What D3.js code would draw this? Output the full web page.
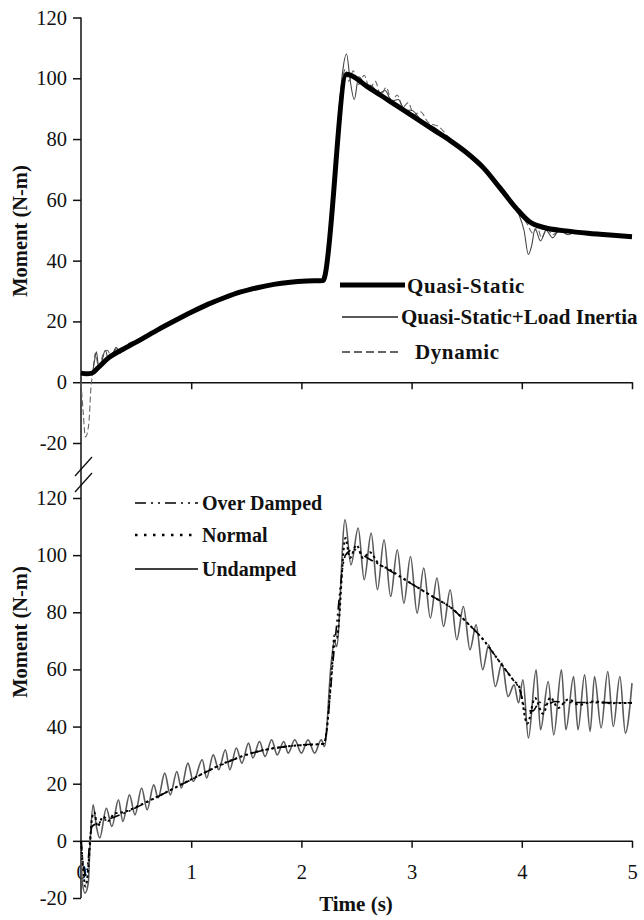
<!DOCTYPE html>
<html>
<head>
<meta charset="utf-8">
<script src="https://cdn.jsdelivr.net/npm/d3@7"></script>
<style>
  html, body { margin: 0; padding: 0; background: #fff; }
  svg { display: block; }
  text { font-family: "Liberation Serif", "Times New Roman", serif; fill: #111; }
</style>
</head>
<body>
<div id="chart"></div>
<script>
// ---- Data: [time (s), moment (N-m)] ----
const yTicks = [-20, 0, 20, 40, 60, 80, 100, 120];
const xTicks = [0, 1, 2, 3, 4, 5];

// Upper panel
const quasiStatic = [[0,3],[0.05,2.8],[0.1,3],[0.15,4.6],[0.25,8],[0.4,11.2],[0.55,14.2],[0.7,17.3],[0.85,20.2],[1.0,23],[1.15,25.6],[1.3,27.8],[1.45,29.7],[1.6,31.1],[1.75,32.2],[1.9,32.9],[2.05,33.3],[2.2,33.5],[2.21,34.5],[2.41,101.3],[2.6,97.2],[2.8,92.5],[3.0,87.8],[3.2,83],[3.35,79.5],[3.5,75.5],[3.65,70.6],[3.8,64],[3.95,57.2],[4.07,52.8],[4.2,50.9],[4.4,49.8],[4.6,49],[4.8,48.4],[5.0,47.9]];

const loadInertia = [[0,3],[0.1,3],[0.12,6.5],[0.14,10],[0.16,5],[0.19,7],[0.22,10.5],[0.25,7.5],[0.29,9.5],[0.32,11.5],[0.35,9.5],[0.4,11.5],[0.5,13.5],[0.7,17.3],[1.0,23],[1.3,27.8],[1.6,31.1],[1.9,32.9],[2.2,33.5],[2.21,34.5],[2.41,108],[2.44,100],[2.48,93],[2.52,100.5],[2.58,98],[2.64,97.5],[2.7,95],[2.76,96],[2.82,92.5],[2.88,93],[2.94,89.5],[3.0,89.5],[3.1,85.5],[3.2,84],[3.35,79.5],[3.5,75.5],[3.65,70.6],[3.8,64],[3.9,59.5],[3.97,55.5],[4.02,50],[4.06,42],[4.09,45],[4.12,50.5],[4.17,46.5],[4.22,50],[4.28,47.5],[4.34,50],[4.42,48.5],[4.5,49.6],[4.7,48.7],[5.0,47.9]];

const dynamic = [[0,0],[0.02,-10],[0.04,-18],[0.07,-14],[0.09,-2],[0.11,4],[0.13,9.5],[0.16,5],[0.2,9],[0.24,10.5],[0.28,8],[0.32,11],[0.36,10.5],[0.42,12.5],[0.5,13.8],[0.7,17.5],[1.0,23.3],[1.3,28],[1.6,31.3],[1.9,33.2],[2.2,33.8],[2.21,34.5],[2.4,103],[2.43,99],[2.47,102.5],[2.52,98],[2.57,101],[2.62,96.5],[2.67,99],[2.72,94.5],[2.77,97],[2.82,92.5],[2.87,94.5],[2.92,90.5],[2.97,92],[3.02,88],[3.08,89],[3.15,85.5],[3.25,84],[3.35,80],[3.5,76],[3.65,71],[3.8,64.5],[3.95,57],[4.05,52],[4.1,49],[4.14,51],[4.18,47.5],[4.23,50.5],[4.28,48.5],[4.35,50],[4.45,49],[4.6,49.3],[4.8,48.5],[5.0,48]];

// Lower panel
const overDamped = [[0,0],[0.02,-8],[0.04,-12],[0.06,-9],[0.08,0],[0.1,5],[0.14,6],[0.2,7],[0.3,8.3],[0.4,9.8],[0.55,12.6],[0.7,15.5],[0.85,18.5],[1.0,21.4],[1.15,24.4],[1.3,27],[1.45,29.4],[1.6,31.2],[1.75,32.4],[1.9,33.2],[2.05,33.7],[2.2,33.9],[2.21,34.5],[2.3,68],[2.4,100],[2.47,102],[2.6,99],[2.75,95.8],[2.89,92.5],[3.05,88.8],[3.2,85.3],[3.35,81.8],[3.5,76.5],[3.65,70.4],[3.8,62.6],[3.92,56.4],[3.98,53],[4.04,45.5],[4.1,45.5],[4.16,48.5],[4.22,47.5],[4.3,48.8],[4.4,48.4],[4.6,48.4],[5.0,48.3]];

const normal = [[0,0],[0.02,-10],[0.04,-16],[0.06,-12],[0.08,-2],[0.1,8],[0.12,10],[0.15,5],[0.2,8.5],[0.25,7],[0.3,9.5],[0.4,10.2],[0.55,12.8],[0.7,15.6],[1.0,21.5],[1.3,27.2],[1.6,31.3],[1.9,33.2],[2.2,34],[2.21,34.5],[2.28,62],[2.3,72],[2.32,71],[2.4,106],[2.44,99],[2.5,103.5],[2.56,99],[2.62,101],[2.7,97],[2.8,95],[2.89,92.7],[3.05,88.8],[3.2,85.3],[3.35,81.8],[3.5,76.5],[3.65,70.4],[3.8,62.6],[3.92,56.4],[3.98,53.5],[4.05,41],[4.12,50],[4.19,44.5],[4.26,50.2],[4.33,46.5],[4.42,49.5],[4.52,47.6],[4.65,48.8],[4.8,48.2],[5.0,48.3]];

const undamped = [[0,0],[0.01,-13.7],[0.036,-18.3],[0.066,-14.8],[0.08,-3],[0.11,12.6],[0.14,5],[0.17,1],[0.23,11.4],[0.28,5],[0.34,14.4],[0.38,6.8],[0.44,16.1],[0.49,9.1],[0.55,18.5],[0.6,10.9],[0.66,19.6],[0.7,15],[0.76,23.7],[0.81,16.1],[0.87,24.3],[0.91,18.5],[0.97,27.2],[1.02,20.8],[1.1,28.4],[1.14,22],[1.2,30.1],[1.25,24.9],[1.31,31.9],[1.35,24.9],[1.41,32.5],[1.46,27.2],[1.52,34.2],[1.56,29],[1.62,34.8],[1.67,29.5],[1.73,35.4],[1.78,30.1],[1.84,34.8],[1.88,30.7],[1.94,35.4],[2.0,30.7],[2.06,35.4],[2.12,30.7],[2.18,35.4],[2.21,33],[2.27,62],[2.3,70],[2.32,68],[2.396,112.4],[2.45,96.6],[2.515,109.5],[2.57,91.4],[2.633,107.7],[2.69,87.9],[2.75,105.4],[2.81,85.5],[2.87,101.9],[2.93,83.2],[2.99,99.5],[3.05,79.7],[3.11,95.5],[3.17,78],[3.23,92],[3.29,75],[3.35,87.9],[3.41,70.4],[3.47,82],[3.53,66.9],[3.585,75.6],[3.645,59.9],[3.7,68.6],[3.76,54],[3.82,62.2],[3.875,50.5],[3.93,54.6],[3.97,48.3],[4.01,56.4],[4.06,36],[4.13,59.9],[4.17,38.9],[4.24,55.8],[4.29,37.1],[4.36,59.9],[4.4,38.9],[4.47,57.5],[4.51,38.9],[4.57,58.1],[4.62,38.3],[4.66,57.5],[4.72,39.5],[4.78,59.3],[4.83,40],[4.89,57.5],[4.94,37.7],[5.0,55.2]];

const topLegend = ["Quasi-Static", "Quasi-Static+Load Inertia", "Dynamic"];
const bottomLegend = ["Over Damped", "Normal", "Undamped"];

// ---- Layout ----
const W = 644, H = 920;
const svg = d3.select("#chart").append("svg").attr("width", W).attr("height", H);

const x = d3.scaleLinear().domain([0, 5]).range([81, 632]);
const yTop = d3.scaleLinear().domain([-20, 120]).range([443, 17.5]);
const yBot = d3.scaleLinear().domain([-20, 120]).range([898, 498]);

const plain = d => String(d);
const line = (ys) => d3.line().x(d => x(d[0])).y(d => ys(d[1])).curve(d3.curveMonotoneX);

function styleAxis(g) {
  g.selectAll(".domain").remove();
  g.selectAll(".tick line").attr("stroke", "#111").attr("stroke-width", 1.5);
  g.selectAll(".tick text").attr("font-family", "Liberation Serif, serif")
    .attr("font-size", 20.5).attr("fill", "#111");
}

// Y axes (labels on the left of one shared vertical line)
svg.append("g").attr("transform", "translate(81,0)")
  .call(d3.axisLeft(yTop).tickValues(yTicks).tickSize(8).tickPadding(6).tickFormat(plain))
  .call(styleAxis);
svg.append("g").attr("transform", "translate(81,0)")
  .call(d3.axisLeft(yBot).tickValues(yTicks).tickSize(8).tickPadding(6).tickFormat(plain))
  .call(styleAxis);

// Shared vertical axis line
svg.append("line").attr("x1", 81).attr("x2", 81)
  .attr("y1", yTop(120)).attr("y2", yBot(-20))
  .attr("stroke", "#111").attr("stroke-width", 1.5);

// Axis break marks
[[457, 476], [473, 492]].forEach(([yt, yb]) => {
  svg.append("line").attr("x1", 75).attr("y1", yb).attr("x2", 92).attr("y2", yt)
    .attr("stroke", "#111").attr("stroke-width", 1.3);
});

// X axes along the zero lines
const topX = svg.append("g").attr("transform", `translate(0,${yTop(0)})`)
  .call(d3.axisBottom(x).tickValues(xTicks.slice(1)).tickSize(7).tickSizeOuter(0).tickFormat(""));
topX.select(".domain").attr("stroke", "#111").attr("stroke-width", 1.5);
topX.selectAll(".tick line").attr("stroke", "#111").attr("stroke-width", 1.5);

const botX = svg.append("g").attr("transform", `translate(0,${yBot(0)})`)
  .call(d3.axisBottom(x).tickValues(xTicks).tickSize(7).tickSizeOuter(0).tickPadding(17).tickFormat(plain));
botX.select(".domain").attr("stroke", "#111").attr("stroke-width", 1.5);
botX.selectAll(".tick line").attr("stroke", "#111").attr("stroke-width", 1.5);
botX.selectAll(".tick text").attr("font-family", "Liberation Serif, serif")
  .attr("font-size", 20.5).attr("fill", "#111");

// ---- Upper panel curves ----
svg.append("path").datum(dynamic).attr("d", line(yTop))
  .attr("fill", "none").attr("stroke", "#666").attr("stroke-width", 1.1)
  .attr("stroke-dasharray", "6,3");
svg.append("path").datum(loadInertia).attr("d", line(yTop))
  .attr("fill", "none").attr("stroke", "#444").attr("stroke-width", 1.1);
svg.append("path").datum(quasiStatic).attr("d", line(yTop))
  .attr("fill", "none").attr("stroke", "#000").attr("stroke-width", 5)
  .attr("stroke-linejoin", "round");

// ---- Lower panel curves ----
svg.append("path").datum(undamped).attr("d", line(yBot))
  .attr("fill", "none").attr("stroke", "#5a5a5a").attr("stroke-width", 1.6);
svg.append("path").datum(overDamped).attr("d", line(yBot))
  .attr("fill", "none").attr("stroke", "#000").attr("stroke-width", 1.6)
  .attr("stroke-dasharray", "10,4,2,4,2,4");
svg.append("path").datum(normal).attr("d", line(yBot))
  .attr("fill", "none").attr("stroke", "#000").attr("stroke-width", 2)
  .attr("stroke-dasharray", "2.5,3");

// ---- Legends ----
const topStyles = [
  { w: 5, c: "#000", dash: null, y: 285, x1: 340, x2: 405, tx: 407, ty: 293, ls: 0.6 },
  { w: 1.3, c: "#222", dash: null, y: 317, x1: 342, x2: 398, tx: 401, ty: 324, ls: 0 },
  { w: 1.3, c: "#333", dash: "8,4", y: 352, x1: 342, x2: 398, tx: 415, ty: 359, ls: 0.6 }
];
topLegend.forEach((name, i) => {
  const s = topStyles[i];
  svg.append("line").attr("x1", s.x1).attr("x2", s.x2).attr("y1", s.y).attr("y2", s.y)
    .attr("stroke", s.c).attr("stroke-width", s.w).attr("stroke-dasharray", s.dash);
  svg.append("text").attr("x", s.tx).attr("y", s.ty)
    .attr("font-size", 21).attr("font-weight", "bold").attr("letter-spacing", s.ls).text(name);
});

const botStyles = [
  { w: 1.6, dash: "11,5,2,5,2,5", y: 503 },
  { w: 2.5, dash: "2.5,6.5", y: 535 },
  { w: 1.3, dash: null, y: 569 }
];
bottomLegend.forEach((name, i) => {
  const s = botStyles[i];
  svg.append("line").attr("x1", 135).attr("x2", 198).attr("y1", s.y).attr("y2", s.y)
    .attr("stroke", "#000").attr("stroke-width", s.w).attr("stroke-dasharray", s.dash);
  svg.append("text").attr("x", 202).attr("y", s.y + 7)
    .attr("font-size", 20).attr("font-weight", "bold").text(name);
});

// ---- Axis titles ----
[[231, "Moment (N-m)"], [632, "Moment (N-m)"]].forEach(([cy, t]) => {
  svg.append("text").attr("transform", `translate(27,${cy}) rotate(-90)`)
    .attr("text-anchor", "middle").attr("font-size", 20.5).attr("font-weight", "bold").text(t);
});
svg.append("text").attr("x", 356).attr("y", 911).attr("text-anchor", "middle")
  .attr("font-size", 21).attr("font-weight", "bold").text("Time (s)");
</script>
</body>
</html>
